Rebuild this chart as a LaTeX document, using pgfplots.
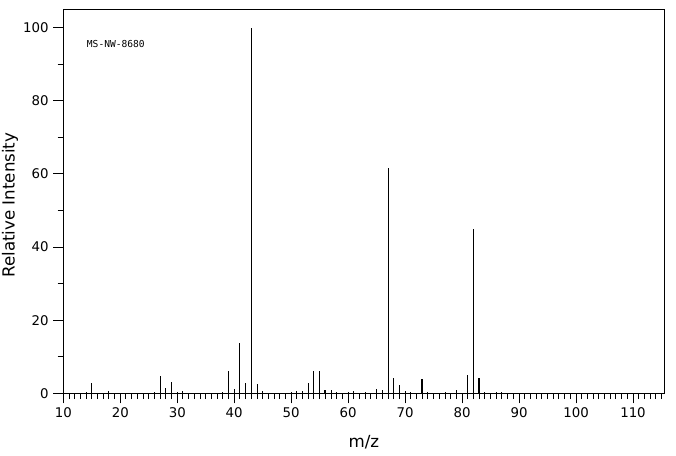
\documentclass[border=0pt]{standalone}
\usepackage{pgfplots}
\pgfplotsset{compat=1.18}
\usepackage{fontspec}
\setmainfont{DejaVu Sans}
\newfontfamily\monofont{DejaVu Sans Mono}
\begin{document}
\begin{tikzpicture}
\path[use as bounding box] (-47.5pt,-46.3pt) rectangle (459.5pt,295pt);
\begin{axis}[
  at={(0,0)}, anchor=south west,
  scale only axis,
  width=450.75pt, height=288pt,
  xmin=10, xmax=115.5, ymin=0, ymax=105,
  axis line style={line width=0.75pt},
  xtick distance=10, minor x tick num=9,
  ytick distance=20, minor y tick num=1,
  tick pos=left, tick align=outside,
  major tick length=7.5pt, minor tick length=4.3pt,
  every tick/.style={line width=0.75pt, black},
  /pgf/number format/assume math mode=true,
  ticklabel style={font=\fontsize{10}{11}\selectfont},
  xlabel={m/z}, ylabel={Relative Intensity},
  label style={font=\fontsize{12.5}{14}\selectfont},
  xlabel style={at={(axis description cs:0.5,-0.127)}, anchor=center},
  ylabel style={at={(axis description cs:-0.0887,0.49)}, anchor=center},
  clip=false,
]
\addplot[ycomb, mark=none, black, line width=0.75pt] coordinates {
(14,0.4) (15,2.8) (18,0.5) (26,0.3) (27,4.7) (28,1.4) (29,3.1) (30,0.3) (31,0.5)
(38,0.4) (39,6.1) (40,1.2) (41,13.7) (42,2.8) (43,100) (44,2.6) (45,0.6)
(50,0.4) (51,0.6) (52,0.6) (53,2.8) (54,6.1) (55,6.1) (57,0.9) (58,0.4)
(60,0.3) (61,0.6) (63,0.4) (65,1.2) (66,0.9) (67,61.5) (68,4.2) (69,2.3) (70,0.6) (71,0.4)
(74,0.4) (77,0.3) (79,0.9) (81,5.0) (82,45) (84,0.4) (86,0.3) (87,0.3)
(95,0.2) (96,0.2) (97,0.2) (98,0.2) (99,0.2) (112,0.2)
};
\addplot[ycomb, mark=none, black, line width=1.5pt] coordinates {
(56,0.9) (73,3.9) (83,4.2)
};
\node[anchor=west, font=\monofont\fontsize{7.2}{8}\selectfont, inner sep=0pt] at (axis cs:14.1,95.5) {MS-NW-8680};
\end{axis}
\end{tikzpicture}
\end{document}
